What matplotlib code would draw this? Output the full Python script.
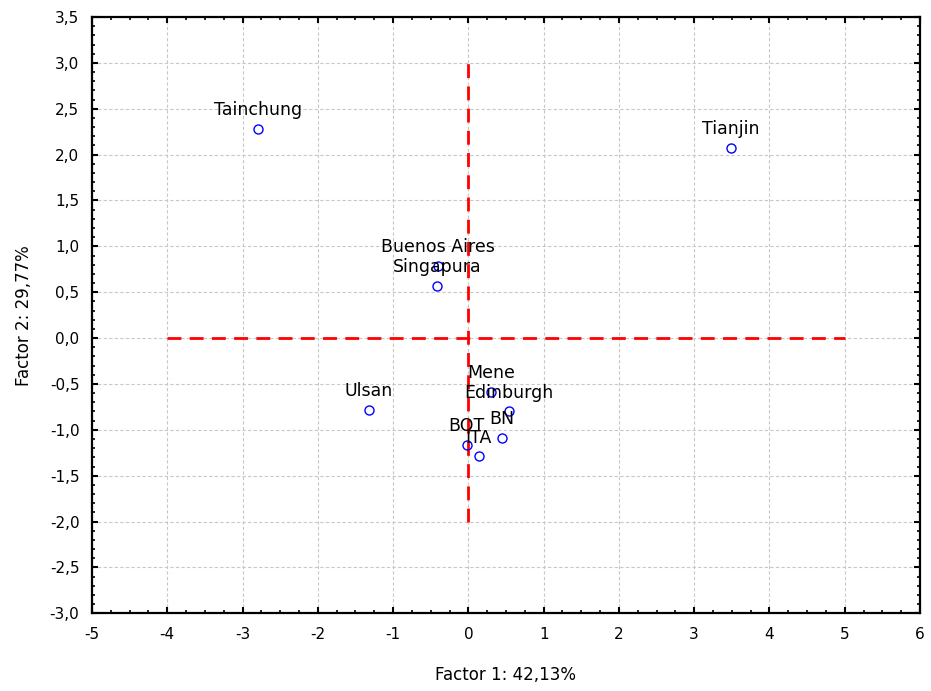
import matplotlib
matplotlib.use("Agg")
import matplotlib.pyplot as plt
from matplotlib.ticker import MultipleLocator, FuncFormatter

plt.rcParams['font.family'] = ['DejaVu Sans']

# Factor scores per city
cities = ["Tainchung", "Tianjin", "Buenos Aires", "Singapura", "Ulsan",
          "Mene", "Edinburgh", "BN", "BOT", "ITA"]
factor1 = [-2.80, 3.49, -0.40, -0.42, -1.32, 0.30, 0.54, 0.45, -0.02, 0.14]
factor2 = [2.28, 2.07, 0.785, 0.57, -0.785, -0.585, -0.80, -1.09, -1.16, -1.29]

x_label = "Factor 1: 42,13%"
y_label = "Factor 2: 29,77%"

fig = plt.figure(figsize=(9.31, 6.91), dpi=100)
ax = fig.add_axes([0.0988, 0.1124, 0.8894, 0.8630])

ax.set_xlim(-5, 6)
ax.set_ylim(-3, 3.5)

ax.grid(True, color="#c8c8c8", linestyle=(0, (3, 2)), linewidth=0.8)
ax.set_axisbelow(True)

# Reference axes through the origin
ax.plot([0, 0], [-2, 3], color="#ff0000", linestyle=(0, (5, 3)), linewidth=2, zorder=2)
ax.plot([-4, 5], [0, 0], color="#ff0000", linestyle=(0, (5, 3)), linewidth=2, zorder=2)

ax.plot(factor1, factor2, linestyle="none", marker="o", markersize=6.5,
        markerfacecolor="none", markeredgecolor="#0000ff", markeredgewidth=1.0, zorder=3)

for name, x, y in zip(cities, factor1, factor2):
    ax.annotate(name, (x, y), xytext=(0, 7), textcoords="offset points",
                ha="center", va="bottom", fontsize=12.5, color="#000000", zorder=4)

comma = FuncFormatter(lambda v, p: f"{v:.1f}".replace(".", ","))
ax.xaxis.set_major_locator(MultipleLocator(1))
ax.xaxis.set_minor_locator(MultipleLocator(0.25))
ax.yaxis.set_major_locator(MultipleLocator(0.5))
ax.yaxis.set_minor_locator(MultipleLocator(0.1))
ax.yaxis.set_major_formatter(comma)
ax.xaxis.set_major_formatter(FuncFormatter(lambda v, p: f"{v:.0f}"))

ax.tick_params(which="both", direction="in", top=True, right=True, labelsize=11)
ax.tick_params(which="major", length=4, width=1.5, pad=10)
ax.tick_params(which="minor", length=2.5, width=1.2)
ax.tick_params(axis="y", which="major", pad=9)

for s in ax.spines.values():
    s.set_linewidth(1.6)

ax.set_xlabel(x_label, fontsize=12, labelpad=17)
ax.set_ylabel(y_label, fontsize=12, labelpad=12)

fig.savefig("out.png", dpi=100)
